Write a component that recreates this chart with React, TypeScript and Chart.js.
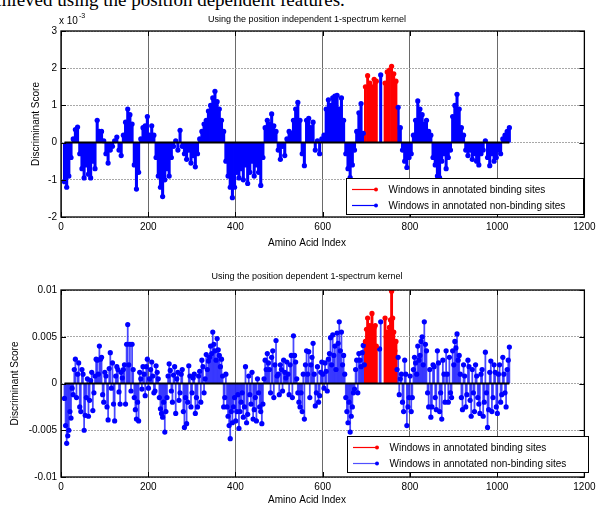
import React, { useEffect, useRef } from 'react';
import { Chart, registerables } from 'chart.js';
Chart.register(...registerables);

// ---------- data ----------
const X_START = 8; // first listed window position
const X_STEP = 5; // spacing between listed windows
const X_START_B = 10.5; // interleaved windows (bottom panel)
const BINDING_RANGES: [number, number][] = [
  [698, 723],
  [743, 768],
];
const X_TICKS = [0, 200, 400, 600, 800, 1000, 1200];
const TOP_Y_TICKS = [-2, -1, 0, 1, 2, 3];
const TOP_Y_LABELS = ['-2', '-1', '0', '1', '2', '3'];
const BOTTOM_Y_TICKS = [-10, -5, 0, 5, 10]; // in units of 1e-3
const BOTTOM_Y_LABELS = ['-0.01', '-0.005', '0', '0.005', '0.01'];

// position independent kernel scores (x 10^-3)
const TOP_SCORES: (number | null)[] = [
  -1.05, -1.2, -0.9, -0.4, 0.1, 0.35, 0.42, -0.3, -0.7, -0.95,
  -0.6, -0.85, -0.95, -0.5, -0.7, 0.6, 0.3, 0.3, 0.05, -0.3,
  -0.55, -0.2, -0.1, 0.05, 0.15, -0.2, -0.35, 0.2, 0.55, 0.9,
  0.75, 0.5, -0.6, -1.25, -0.8, 0.1, 0.4, 0.45, 0.7, 0.2,
  0.45, 0.2, -0.4, -0.9, -1.2, -1.45, -1.0, -0.7, -0.9, -0.4,
  -0.1, 0.05, -0.2, 0.33, -0.1, -0.3, -0.45, -0.2, -0.55, -0.35,
  -0.65, -0.3, 0.1, 0.3, 0.5, 0.6, 0.85, 1.0, 1.2, 1.38,
  1.1, 0.9, 0.6, 0.3, -0.5, -0.9, -1.2, -1.48, -1.2, -0.8,
  -0.95, -0.7, -1.0, -0.6, -1.1, -0.8, -0.5, -0.9, -0.6, -0.8,
  -1.15, -0.4, 0.4, 0.6, 0.5, 0.77, 0.45, 0.3, -0.2, -0.45,
  -0.1, -0.35, 0.1, 0.3, 0.25, 0.6, 0.9, 1.08, 0.6, -0.3,
  -0.62, 0.6, 0.65, 0.4, 0.55, -0.2, 0.05, -0.3, 0.1, 0.2,
  0.9, 1.15, 1.0, 1.2, 1.25, 1.27, 0.9, 1.2, 0.6, -0.3,
  -0.7, -0.94, -0.6, -0.2, 0.3, 0.8, 1.05, 0.25, 1.5, 1.8,
  1.6, 1.5, 1.7, 1.65, null, 1.82, null, 1.6, 1.9, 1.95,
  2.05, 1.85, 1.65, 0.95, 0.4, -0.2, -0.5, -0.67, -0.4, -0.3,
  0.2, 0.6, 1.12, 0.9, 0.75, 0.5, 0.6, 0.3, 0.2, -0.4,
  -0.6, -0.9, -0.94, -0.5, -0.3, -0.7, -0.4, -0.2, 0.7, 1.0,
  1.3, 0.9, 0.4, 0.2, -0.2, -0.35, -0.2, -0.45, -0.3, -0.5,
  -0.6, -0.3, -0.2, 0.05, -0.4, -0.62, -0.3, -0.5, -0.4, -0.2,
  -0.3, 0.1, 0.2, 0.3, 0.4,
];

// position dependent kernel scores (x 10^-3), windows at X_START + i*X_STEP
const BOTTOM_SCORES: (number | null)[] = [
  -1.6, -6.4, -5.0, -3.7, -1.2, 2.6, 1.0, -2.5, 1.5, -5.0,
  -1.5, -3.5, 0.3, -2.9, 0.8, 2.5, 4.0, 2.8, -2.0, 0.8,
  -3.9, 3.3, 2.2, -4.0, 1.8, -0.9, 1.2, 1.5, -2.2, 6.3,
  4.2, 4.2, -1.5, -3.8, -4.0, 0.5, 1.8, -1.3, 2.6, 0.5,
  2.3, -1.0, 1.9, 0.5, -2.7, -3.6, -5.2, -1.5, 2.1, -0.8,
  0.9, -3.2, 1.2, -1.0, 1.5, -4.7, -4.3, 1.9, -2.5, 0.6,
  -3.2, -2.5, 1.3, 2.5, -1.0, 3.1, 2.4, 4.0, 5.5, 3.5,
  4.8, 3.0, 2.6, -2.5, 1.0, -3.5, -5.9, -4.2, -1.5, -3.0,
  -4.8, -2.0, -3.6, 1.8, -3.3, -1.2, 1.2, -2.8, -4.0, -1.0,
  -3.0, -2.2, 2.5, 3.2, 1.5, 2.8, -1.5, 4.6, 1.0, 2.0,
  -0.8, 1.2, 2.3, -1.2, 3.0, 5.1, 2.3, -1.0, -2.5, -3.0,
  -3.8, 3.5, 3.4, 2.0, 4.3, -2.4, 1.8, -1.3, 2.3, -0.5,
  1.3, 2.6, 4.9, 5.2, 4.0, 5.4, 6.6, 5.5, 3.0, -1.5,
  -4.2, -5.2, -2.5, -0.6, 2.5, 3.2, 1.8, 4.07, 4.5, 7.0,
  6.2, 7.5, 6.0, 4.0, null, 6.6, null, 7.0, 5.5, 6.0,
  9.86, 5.5, 4.5, 2.8, 0.5, -2.0, 2.5, -4.5, -1.5, -3.0,
  1.5, 2.2, 4.0, 3.0, 5.0, 6.6, 3.5, -2.5, -3.6, 2.0,
  -1.5, 3.5, -3.0, -3.8, 1.0, 3.5, -2.0, -1.0, 3.5, 4.5,
  5.3, 3.0, -1.5, 2.0, -2.5, 2.5, -1.8, 1.5, -3.0, 0.8,
  -2.2, 1.0, -3.5, 3.35, -4.7, 1.2, -3.0, 2.0, -2.5, 1.0,
  -2.0, 2.8, -1.0, 1.5, 3.9,
];

// position dependent kernel scores (x 10^-3), windows at X_START_B + i*X_STEP
const BOTTOM_SCORES_B: (number | null)[] = [
  -4.5, -5.6, -3.0, -0.5, 1.5, -1.5, 2.2, -3.0, 1.0, -3.4,
  0.5, -1.8, 1.2, -1.0, 2.6, 1.0, 2.6, -1.2, 1.2, -2.5,
  1.6, -0.5, -2.2, 0.8, 1.5, -2.2, 0.6, 2.0, 4.2, 2.0,
  -0.8, 1.5, -2.8, -2.0, 1.2, -0.6, 1.0, 1.8, -0.5, 1.5,
  0.8, -0.8, 1.2, -1.5, -3.2, -2.0, -3.0, 0.8, 1.4, -2.0,
  1.8, 0.5, -1.8, 1.0, -3.0, -1.5, -2.0, 0.8, -1.0, 1.0,
  -1.5, 0.8, -2.0, 1.8, 0.5, 1.5, 2.8, 3.2, 4.2, 2.5,
  3.6, 1.8, 0.8, -1.5, -2.5, -4.5, -3.0, -2.5, -4.0, -1.2,
  -3.0, -1.0, -2.5, -4.2, 0.8, -2.2, -3.8, -1.5, 0.5, -2.5,
  -4.3, 0.5, 1.5, 2.2, -1.0, 3.5, 2.0, 0.8, -1.2, 1.5,
  2.5, 0.6, 1.0, 2.0, -1.5, 3.0, 0.5, -2.0, -1.0, 1.0,
  2.0, 1.0, -1.5, 2.8, 1.0, -1.0, -2.0, 1.2, 1.0, 2.2,
  -0.8, 3.2, 2.0, 3.0, 1.5, 4.3, 3.5, 2.0, 1.0, -3.0,
  -2.0, -3.5, -1.0, 1.5, -1.0, 2.5, 3.3, 2.0, 5.8, 4.0,
  5.0, 3.5, 6.2, null, 3.7, null, null, 5.0, 4.2, 6.8,
  7.0, 3.5, 1.5, -1.2, 1.0, -3.0, 1.0, -2.5, 0.8, -1.5,
  2.8, 1.0, 2.5, 4.5, 2.0, 4.2, -1.0, 1.5, -2.5, 1.8,
  -2.8, 2.2, -1.0, 2.5, -2.0, 1.0, 2.8, -1.5, 2.0, 3.8,
  2.5, 1.0, -2.8, 0.8, -1.2, 1.8, -3.5, -1.0, 2.0, -1.5,
  -3.2, 1.5, -2.0, -1.0, -2.8, 2.4, -1.5, 1.2, -3.2, 2.0,
  -1.2, 1.0, -2.5, 2.5,
];

const LEGEND_LABELS = ['Windows in annotated binding sites', 'Windows in annotated non-binding sites'];

// ---------- style ----------
const RED = '#ff0000';
const BLUE = '#0000ff';
const FONT = "'Liberation Sans', Arial, Helvetica, sans-serif";
const W = 600;
const H = 253;

type Series = { start: number; values: (number | null)[] };

type Panel = {
  series: Series[];
  yMin: number;
  yMax: number;
  yTicks: number[];
  yLabels: string[];
  title: string;
  exponent: boolean;
  area: { left: number; right: number; top: number; bottom: number };
  titleY: number;
  xTitleY: number;
  yTitleX: number;
  legend: { x: number; y: number; w: number; h: number };
  stemColor: string;
  stemWidth: number;
  legendBlue: string;
};

const TOP_PANEL: Panel = {
  series: [{ start: X_START, values: TOP_SCORES }],
  yMin: -2,
  yMax: 3,
  yTicks: TOP_Y_TICKS,
  yLabels: TOP_Y_LABELS,
  title: 'Using the position independent 1-spectrum kernel',
  exponent: true,
  area: { left: 61, right: 589, top: 31, bottom: 217 },
  titleY: 20,
  xTitleY: 243,
  yTitleX: 36,
  legend: { x: 346, y: 178, w: 237, h: 36 },
  stemColor: BLUE,
  stemWidth: 2.4,
  legendBlue: BLUE,
};

const BOTTOM_PANEL: Panel = {
  series: [
    { start: X_START, values: BOTTOM_SCORES },
    { start: X_START_B, values: BOTTOM_SCORES_B },
  ],
  yMin: -10,
  yMax: 10,
  yTicks: BOTTOM_Y_TICKS,
  yLabels: BOTTOM_Y_LABELS,
  title: 'Using the position dependent 1-spectrum kernel',
  exponent: false,
  area: { left: 61, right: 589, top: 37, bottom: 224 },
  titleY: 24,
  xTitleY: 247,
  yTitleX: 15,
  legend: { x: 347, y: 183, w: 241, h: 36 },
  stemColor: 'rgba(40,40,255,0.85)',
  stemWidth: 1.1,
  legendBlue: '#5050ff',
};

function inBinding(x: number) {
  return BINDING_RANGES.some(([a, b]) => x >= a && x <= b);
}

function lastX(p: Panel) {
  return Math.max(...p.series.map((s) => s.start + (s.values.length - 1) * X_STEP));
}

function decor(p: Panel) {
  return {
    id: 'decor',
    afterDatasetsDraw(chart: any) {
      const { ctx, scales } = chart;
      const xs = scales.x;
      const ys = scales.y;
      const y0 = ys.getPixelForValue(0);
      ctx.save();
      ctx.strokeStyle = '#000';
      ctx.lineWidth = 2;
      ctx.beginPath();
      ctx.moveTo(xs.getPixelForValue(X_START), y0);
      ctx.lineTo(xs.getPixelForValue(lastX(p)), y0);
      ctx.stroke();
      ctx.restore();
    },
    afterDraw(chart: any) {
      const { ctx, chartArea: a, scales } = chart;
      const xs = scales.x;
      const ys = scales.y;
      ctx.save();
      // box
      ctx.strokeStyle = '#000';
      ctx.lineWidth = 1.3;
      ctx.strokeRect(a.left, a.top, a.right - a.left, a.bottom - a.top);
      // inward tick marks
      ctx.lineWidth = 1;
      ctx.beginPath();
      X_TICKS.forEach((v) => {
        const px = Math.round(xs.getPixelForValue(v)) + 0.5;
        ctx.moveTo(px, a.bottom);
        ctx.lineTo(px, a.bottom - 5);
        ctx.moveTo(px, a.top);
        ctx.lineTo(px, a.top + 5);
      });
      p.yTicks.forEach((v) => {
        const py = Math.round(ys.getPixelForValue(v)) + 0.5;
        ctx.moveTo(a.left, py);
        ctx.lineTo(a.left + 5, py);
        ctx.moveTo(a.right, py);
        ctx.lineTo(a.right - 5, py);
      });
      ctx.stroke();

      // titles
      ctx.fillStyle = '#000';
      ctx.textAlign = 'center';
      ctx.textBaseline = 'middle';
      ctx.font = `9px ${FONT}`;
      ctx.fillText(p.title, 307, p.titleY);
      ctx.font = `10px ${FONT}`;
      ctx.fillText('Amino Acid Index', 307, p.xTitleY);
      ctx.save();
      ctx.translate(p.yTitleX, (a.top + a.bottom) / 2);
      ctx.rotate(-Math.PI / 2);
      ctx.fillText('Discriminant Score', 0, 0);
      ctx.restore();
      if (p.exponent) {
        ctx.textAlign = 'left';
        ctx.textBaseline = 'alphabetic';
        ctx.font = `10px ${FONT}`;
        ctx.fillText('x 10', 59, 24);
        const w = ctx.measureText('x 10').width;
        ctx.font = `7px ${FONT}`;
        ctx.fillText('-3', 59 + w + 1, 18);
      }

      // legend
      const lg = p.legend;
      ctx.fillStyle = '#fff';
      ctx.fillRect(lg.x, lg.y, lg.w, lg.h);
      ctx.strokeStyle = '#000';
      ctx.lineWidth = 1;
      ctx.strokeRect(lg.x + 0.5, lg.y + 0.5, lg.w, lg.h);
      const rows = [
        { color: RED, dot: RED, label: LEGEND_LABELS[0], y: lg.y + 11.5 },
        { color: p.legendBlue, dot: BLUE, label: LEGEND_LABELS[1], y: lg.y + 27.5 },
      ];
      ctx.font = `10px ${FONT}`;
      ctx.textAlign = 'left';
      ctx.textBaseline = 'middle';
      rows.forEach((r) => {
        ctx.strokeStyle = r.color;
        ctx.lineWidth = 1.2;
        ctx.beginPath();
        ctx.moveTo(lg.x + 6, r.y);
        ctx.lineTo(lg.x + 30, r.y);
        ctx.stroke();
        ctx.fillStyle = r.dot;
        ctx.beginPath();
        ctx.arc(lg.x + 30, r.y, 2, 0, Math.PI * 2);
        ctx.fill();
        ctx.fillStyle = '#000';
        ctx.fillText(r.label, lg.x + 42.5, r.y + 0.5);
      });
      ctx.restore();
    },
  };
}

function buildConfig(p: Panel): any {
  const red: { x: number; y: number }[] = [];
  const blue: { x: number; y: number }[] = [];
  p.series.forEach((s) => {
    s.values.forEach((v, i) => {
      if (v === null) return;
      const x = s.start + i * X_STEP;
      (inBinding(x) ? red : blue).push({ x, y: v });
    });
  });
  const pointDs = (data: any[], color: string, order: number) => ({
    type: 'scatter',
    data,
    showLine: false,
    pointRadius: 2.6,
    pointBackgroundColor: color,
    pointBorderWidth: 0,
    pointHoverRadius: 2.6,
    order,
  });
  const stemDs = (data: any[], color: string, width: number, order: number) => ({
    type: 'bar',
    data,
    backgroundColor: color,
    borderWidth: 0,
    barThickness: width,
    grouped: false,
    order,
  });
  return {
    type: 'scatter',
    data: {
      datasets: [
        pointDs(red, RED, 0),
        pointDs(blue, BLUE, 1),
        stemDs(red, RED, 2.2, 2),
        stemDs(blue, p.stemColor, p.stemWidth, 3),
      ],
    },
    options: {
      animation: false,
      responsive: false,
      events: [],
      layout: { padding: { left: 0, right: W - p.area.right, top: p.area.top, bottom: 0 } },
      plugins: {
        legend: { display: false },
        title: { display: false },
        tooltip: { enabled: false },
      },
      scales: {
        x: {
          type: 'linear',
          min: 0,
          max: 1200,
          offset: false,
          afterBuildTicks: (s: any) => {
            s.ticks = X_TICKS.map((v) => ({ value: v }));
          },
          afterFit: (s: any) => {
            s.height = H - p.area.bottom;
          },
          grid: { color: '#6a6a6a', lineWidth: 1, drawTicks: false, offset: false },
          border: { display: false },
          ticks: {
            padding: 4.5,
            color: '#000',
            font: { family: FONT, size: 10 },
            maxRotation: 0,
            autoSkip: false,
            callback: (v: any) => String(v),
          },
        },
        y: {
          type: 'linear',
          min: p.yMin,
          max: p.yMax,
          afterBuildTicks: (s: any) => {
            s.ticks = p.yTicks.map((v) => ({ value: v }));
          },
          afterFit: (s: any) => {
            s.width = p.area.left;
          },
          grid: { color: '#a8a8a8', lineWidth: 1, drawTicks: false, offset: false },
          border: { display: false, dash: [2, 1] },
          ticks: {
            padding: 4,
            color: '#000',
            font: { family: FONT, size: 10 },
            autoSkip: false,
            callback: (v: any) => {
              const idx = p.yTicks.indexOf(Number(v));
              return idx >= 0 ? p.yLabels[idx] : '';
            },
          },
        },
      },
    },
    plugins: [decor(p)],
  };
}

export default function App() {
  const topRef = useRef<HTMLCanvasElement>(null);
  const botRef = useRef<HTMLCanvasElement>(null);
  useEffect(() => {
    const c1 = new Chart(topRef.current as HTMLCanvasElement, buildConfig(TOP_PANEL));
    const c2 = new Chart(botRef.current as HTMLCanvasElement, buildConfig(BOTTOM_PANEL));
    return () => {
      c1.destroy();
      c2.destroy();
    };
  }, []);
  return (
    <div
      style={{
        position: 'absolute',
        left: 0,
        top: 0,
        width: W,
        height: 506,
        overflow: 'hidden',
        background: '#fff',
      }}
    >
      <div
        style={{
          position: 'absolute',
          left: -15,
          top: -10,
          fontFamily: "'Liberation Serif', 'Times New Roman', serif",
          fontSize: 19,
          lineHeight: '19px',
          whiteSpace: 'nowrap',
          color: '#000',
        }}
      >
        achieved using the position dependent features.
      </div>
      <canvas ref={topRef} width={W} height={H} style={{ position: 'absolute', left: 0, top: 0, width: W, height: H }} />
      <canvas ref={botRef} width={W} height={H} style={{ position: 'absolute', left: 0, top: H, width: W, height: H }} />
    </div>
  );
}
